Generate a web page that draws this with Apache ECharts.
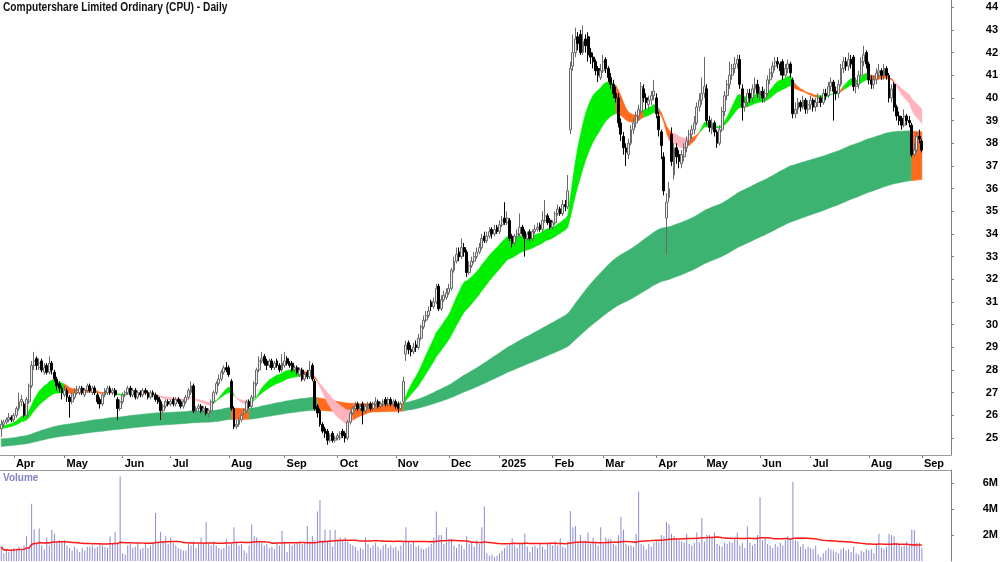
<!DOCTYPE html>
<html><head><meta charset="utf-8">
<script src="https://cdn.jsdelivr.net/npm/echarts@6/dist/echarts.min.js"></script>
<style>html,body{margin:0;padding:0;background:#fff;}#chart{width:1000px;height:562px;}</style>
</head><body><div id="chart"></div>
<script>
const chartTitle = 'Computershare Limited Ordinary (CPU) - Daily';
const volumeTitle = 'Volume';
const firstDate = [2024, 2, 22];
const holidays = ['2024-03-29','2024-04-01','2024-04-25','2024-06-10','2024-12-25','2024-12-26','2025-01-01','2025-01-27','2025-04-18','2025-04-21','2025-04-25','2025-06-09'];
const futureSlots = 11;
const monthTickLabels = ['Apr','May','Jun','Jul','Aug','Sep','Oct','Nov','Dec','2025','Feb','Mar','Apr','May','Jun','Jul','Aug','Sep'];

const opens = [
25.4,25.6,25.7,25.8,25.9,25.8,26.0,26.3,26.6,26.5,
26.0,26.6,27.3,28.2,28.5,28.1,28.4,27.9,28.2,27.9,
28.3,27.9,27.6,27.4,27.2,26.9,27.1,26.8,26.6,26.8,
27.0,27.0,27.2,26.9,27.1,27.3,27.0,27.2,26.9,26.7,
26.5,26.9,27.0,27.2,27.0,27.1,26.7,26.3,26.6,26.9,
27.0,27.2,26.9,27.1,26.8,27.0,26.9,27.1,27.0,26.8,
27.0,26.9,26.8,26.6,26.2,26.4,26.6,26.5,26.7,26.5,
26.7,26.6,26.4,26.6,26.8,27.0,27.3,26.2,26.3,26.4,
26.2,26.3,26.1,26.2,26.6,27.0,27.4,27.6,27.9,28.1,
28.1,27.5,26.3,25.5,25.6,25.8,26.1,26.2,26.6,26.4,
26.8,27.4,28.0,28.4,28.6,28.4,28.2,28.4,28.1,28.4,
28.2,28.0,28.2,28.5,28.3,28.3,28.0,28.1,27.8,28.0,
27.6,27.9,27.7,28.2,27.5,26.4,26.2,25.6,25.4,25.3,
24.9,25.2,24.9,25.0,25.0,25.3,25.2,25.0,25.7,26.1,
26.3,26.5,26.3,26.5,26.2,26.4,26.5,26.3,26.5,26.6,
26.4,26.5,26.7,26.5,26.7,26.5,26.6,26.5,26.3,26.6,
28.7,29.2,28.9,28.8,29.1,29.0,29.4,29.9,30.2,30.4,
31.0,30.8,31.0,31.7,30.7,31.1,31.2,31.4,31.6,32.4,
32.8,33.2,33.0,33.4,33.2,32.3,32.6,32.8,33.0,33.2,
33.4,33.9,33.7,33.9,34.2,34.0,34.3,34.1,34.4,34.7,
34.5,34.6,33.9,33.6,33.9,34.0,34.3,34.1,33.8,34.1,
33.8,34.1,34.2,34.4,34.2,34.6,34.8,34.6,34.3,34.5,
34.9,35.1,34.9,35.3,35.2,38.6,41.4,42.0,42.7,42.8,
42.0,42.6,42.7,42.0,41.8,41.6,41.3,40.9,41.2,41.7,
41.3,40.9,40.6,40.2,40.0,38.9,38.3,37.8,37.5,38.0,
38.6,38.9,39.2,39.4,40.4,40.0,39.7,39.9,40.1,40.0,
39.2,38.5,37.4,34.7,35.6,38.4,36.6,37.8,37.5,37.1,
37.4,37.8,38.1,38.4,38.6,38.9,39.6,39.9,40.2,40.4,
39.0,38.6,38.9,38.5,38.0,38.6,39.4,40.1,40.6,41.0,
41.3,41.5,41.7,40.4,39.6,39.8,40.2,40.0,40.4,40.6,
40.1,40.3,40.0,40.2,40.8,41.1,41.4,41.6,41.5,41.6,
41.0,41.3,41.5,40.8,39.3,39.5,39.8,39.6,39.9,39.5,
39.7,39.9,39.6,39.8,40.0,39.8,40.2,40.1,40.5,40.7,
40.3,40.2,40.6,41.3,41.6,41.4,41.7,41.8,40.5,40.6,
41.0,41.6,42.0,41.5,40.8,40.6,40.8,41.1,41.2,41.0,
41.3,41.0,40.0,40.6,39.6,39.2,39.1,38.8,39.2,39.0,
38.8,37.5,37.7,38.3,38.1];

const highs = [
25.8,25.8,25.9,26.1,26.0,26.1,26.4,27.0,26.9,26.6,
26.8,27.4,28.4,28.8,28.6,28.5,28.5,28.3,28.3,28.6,
28.4,28.0,27.7,27.5,27.3,27.3,27.2,26.9,27.0,27.2,
27.3,27.3,27.3,27.2,27.4,27.4,27.3,27.3,27.0,26.8,
27.0,27.2,27.3,27.3,27.2,27.2,26.8,26.7,27.0,27.1,
27.3,27.3,27.2,27.2,27.1,27.1,27.2,27.2,27.1,27.1,
27.1,27.0,26.9,26.7,26.5,26.7,26.7,26.7,26.8,26.8,
26.8,26.7,26.7,26.9,27.2,27.5,27.4,26.4,26.5,26.5,
26.4,26.4,26.3,26.7,27.1,27.5,27.8,28.0,28.2,28.35,
28.2,27.6,26.4,25.8,25.9,26.1,26.3,26.7,26.7,26.9,
27.5,28.1,28.6,28.8,28.7,28.5,28.5,28.5,28.4,28.5,
28.3,28.7,28.8,28.6,28.4,28.4,28.2,28.2,28.1,28.1,
27.9,28.0,28.4,28.3,27.6,26.5,26.3,25.7,25.5,25.4,
25.2,25.3,25.1,25.2,25.3,25.4,25.3,25.8,26.2,26.4,
26.6,26.6,26.5,26.6,26.5,26.6,26.6,26.6,26.8,26.7,
26.6,26.7,26.8,26.8,26.8,26.7,26.7,26.6,26.6,27.7,
29.3,29.3,29.1,29.2,29.3,29.6,30.0,30.4,30.6,30.8,
31.1,31.2,31.8,31.8,31.3,31.5,31.6,31.8,32.5,33.0,
33.4,33.4,33.8,33.6,33.3,32.8,33.0,33.2,33.4,33.6,
34.0,34.1,34.1,34.3,34.3,34.4,34.4,34.6,34.8,35.4,
35.0,34.7,34.0,34.0,34.2,34.9,34.4,34.2,34.1,34.2,
34.2,34.4,34.5,34.5,35.0,35.5,34.9,34.7,34.6,35.0,
35.3,35.2,35.5,35.5,36.6,41.6,42.8,43.1,42.9,43.0,
43.2,42.8,42.9,42.2,42.0,41.7,41.4,41.5,41.9,41.8,
41.4,41.1,40.8,40.5,40.2,39.1,38.5,38.0,38.2,38.8,
39.1,39.4,39.7,40.7,40.6,40.2,40.1,40.3,40.8,40.2,
39.4,38.6,37.6,35.8,36.3,38.7,38.0,38.0,37.7,37.7,
38.0,38.3,38.6,38.8,39.2,39.8,40.2,40.9,41.8,40.6,
39.2,39.1,39.0,38.6,38.8,39.6,40.3,40.8,41.6,41.5,
41.8,41.9,41.9,40.6,40.0,40.4,40.4,40.6,40.9,40.8,
40.5,40.5,40.4,41.0,41.3,41.6,41.8,41.8,41.6,41.7,
41.5,41.7,41.6,40.9,39.8,40.0,39.9,40.1,40.0,39.9,
40.1,40.0,40.0,40.2,40.1,40.4,40.4,40.7,40.9,40.8,
40.5,40.8,41.5,41.8,41.8,42.0,41.9,41.9,40.9,41.2,
41.8,42.3,42.1,41.6,41.0,41.0,41.3,41.5,41.3,41.5,
41.4,41.1,40.6,40.7,39.7,39.4,39.2,39.5,39.3,39.2,
38.9,38.0,38.5,38.6,38.2];

const lows = [
25.05,25.5,25.6,25.7,25.7,25.7,25.9,26.2,26.4,25.9,
25.9,26.5,27.2,28.0,28.0,28.0,27.9,27.8,27.8,27.8,
27.8,27.5,27.1,27.0,26.7,26.8,26.6,25.9,26.5,26.7,
26.9,26.9,26.9,26.8,27.0,27.0,26.9,26.9,26.5,26.3,
26.4,26.8,26.9,26.9,26.9,26.8,25.8,26.2,26.5,26.8,
26.9,26.8,26.8,26.7,26.7,26.8,26.8,26.9,26.7,26.7,
26.8,26.6,26.5,25.8,26.1,26.3,26.4,26.4,26.4,26.4,
26.5,26.3,26.3,26.5,26.7,26.9,26.1,26.1,26.2,26.1,
26.1,26.0,25.9,26.1,26.5,26.9,27.3,27.5,27.8,27.9,
27.7,26.2,25.4,25.4,25.5,25.7,26.0,26.1,26.3,26.3,
26.7,27.3,27.9,28.3,28.2,28.0,28.1,28.0,28.0,28.1,
27.9,27.9,28.1,28.2,28.1,27.9,27.9,27.8,27.7,27.5,
27.5,27.6,27.6,27.5,26.2,25.9,25.5,25.2,25.0,24.7,
24.8,24.8,24.8,24.9,24.9,25.0,24.8,24.9,25.6,26.0,
26.2,26.2,26.2,25.6,26.1,26.3,26.2,26.2,26.4,26.3,
26.3,26.4,26.4,26.4,26.4,26.4,26.3,26.1,26.2,26.5,
28.4,28.7,28.6,28.7,28.8,28.9,29.3,29.8,30.1,30.3,
30.6,30.7,30.9,30.6,30.6,31.0,31.1,31.3,31.5,32.3,
32.7,32.8,32.9,33.0,32.1,32.2,32.5,32.7,32.9,33.1,
33.3,33.6,33.6,33.8,33.8,33.9,34.0,34.0,34.3,34.4,
34.4,33.7,33.4,33.5,33.8,33.9,33.9,33.0,33.7,33.7,
33.7,34.0,34.1,34.1,34.1,34.5,34.4,34.2,34.2,34.4,
34.8,34.8,34.8,35.0,35.1,38.4,41.2,41.8,42.1,41.9,
41.9,42.0,41.6,41.5,41.3,41.0,40.7,40.8,41.1,41.1,
40.7,40.4,40.0,39.8,38.7,38.1,37.5,37.0,37.3,37.9,
38.4,38.7,39.0,39.3,39.8,39.5,39.5,39.7,39.9,39.1,
38.3,37.3,35.7,33.1,35.4,37.0,36.4,37.1,36.9,36.9,
37.2,37.6,37.9,38.2,38.4,38.8,39.4,39.7,40.0,38.8,
38.5,38.4,38.3,37.8,37.9,38.5,39.2,39.9,40.4,40.8,
41.1,41.3,40.4,39.0,39.4,39.6,39.8,39.8,40.2,40.0,
39.9,39.8,39.8,40.1,40.6,40.9,41.2,41.3,41.0,40.8,
40.9,41.1,40.9,39.1,39.1,39.3,39.4,39.5,39.3,39.3,
39.5,39.4,39.4,39.6,39.6,39.7,39.9,40.0,40.3,39.0,
39.9,40.0,40.5,41.1,41.2,41.2,41.3,40.3,40.2,40.4,
40.9,41.4,41.3,40.6,40.4,40.4,40.6,40.9,40.8,40.8,
40.8,39.8,39.8,39.4,39.0,38.8,38.6,38.7,38.8,38.7,
37.4,37.4,37.6,38.0,37.6];

const closes = [
25.6,25.7,25.8,25.9,25.8,26.0,26.3,26.6,26.7,26.0,
26.7,27.3,28.2,28.4,28.2,28.3,28.0,28.1,27.9,28.3,
28.0,27.6,27.3,27.2,27.0,27.1,26.8,26.6,26.9,27.0,
27.1,27.2,27.0,27.1,27.3,27.1,27.2,27.0,26.6,26.5,
26.9,27.1,27.2,27.0,27.1,26.9,26.3,26.6,26.9,27.0,
27.2,26.9,27.1,26.8,27.0,26.9,27.1,27.0,26.8,27.0,
26.9,26.7,26.6,26.2,26.4,26.6,26.5,26.6,26.5,26.7,
26.6,26.4,26.6,26.8,27.1,27.3,26.2,26.3,26.4,26.2,
26.3,26.1,26.2,26.6,27.0,27.4,27.6,27.9,28.1,28.0,
27.8,26.3,25.5,25.6,25.8,26.0,26.2,26.6,26.4,26.8,
27.4,28.0,28.4,28.5,28.3,28.2,28.4,28.1,28.3,28.2,
28.0,28.3,28.4,28.3,28.2,28.0,28.1,27.9,28.0,27.6,
27.8,27.7,28.0,27.6,26.3,26.1,25.6,25.3,25.2,24.9,
25.1,24.9,25.0,25.1,25.2,25.1,25.0,25.7,26.1,26.3,
26.4,26.3,26.4,26.2,26.4,26.5,26.3,26.5,26.6,26.4,
26.5,26.6,26.5,26.7,26.5,26.6,26.4,26.3,26.5,27.5,
29.1,28.9,28.8,29.0,29.0,29.4,29.9,30.2,30.4,30.6,
30.8,31.0,31.6,30.7,31.1,31.3,31.4,31.6,32.4,32.8,
33.1,33.0,33.4,33.2,32.3,32.6,32.8,33.0,33.2,33.4,
33.8,33.7,33.9,34.1,34.0,34.2,34.1,34.4,34.6,34.5,
34.7,33.8,33.6,33.9,34.0,34.3,34.0,33.8,34.0,33.8,
34.1,34.2,34.3,34.2,34.6,34.8,34.5,34.3,34.5,34.9,
35.1,34.9,35.3,35.2,35.9,41.3,42.0,42.6,42.4,42.0,
42.5,42.3,41.9,41.8,41.6,41.2,41.0,41.2,41.6,41.3,
40.9,40.6,40.2,40.0,38.9,38.4,37.8,37.6,38.0,38.6,
38.9,39.2,39.5,40.5,40.0,39.8,39.9,40.1,40.3,39.3,
38.6,37.9,35.9,35.4,36.0,37.2,37.8,37.4,37.2,37.5,
37.8,38.1,38.4,38.6,38.9,39.6,39.9,40.2,40.5,39.0,
38.7,38.8,38.5,38.0,38.6,39.4,40.1,40.6,41.0,41.3,
41.5,41.7,40.6,39.6,39.8,40.2,40.0,40.4,40.6,40.2,
40.3,40.0,40.2,40.8,41.1,41.4,41.6,41.5,41.2,41.0,
41.3,41.5,41.1,39.3,39.5,39.8,39.6,39.9,39.5,39.7,
39.9,39.6,39.8,40.0,39.8,40.2,40.1,40.5,40.7,40.3,
40.2,40.6,41.3,41.6,41.4,41.7,41.5,40.5,40.6,41.0,
41.6,41.9,41.5,40.8,40.6,40.8,41.1,41.2,41.0,41.3,
41.0,40.0,40.4,39.6,39.2,39.0,38.8,39.2,39.0,38.9,
37.5,37.7,38.3,38.2,37.7];

// volume in millions
const volumes = [
1.1,0.6,0.9,0.7,0.8,1.0,0.9,1.1,0.8,1.2,
1.9,1.1,4.4,2.4,1.3,2.5,1.2,0.9,1.8,1.2,
2.4,2.1,1.5,1.6,1.5,1.6,1.2,1.0,0.8,1.1,
0.9,0.7,1.0,0.8,1.1,1.1,1.2,1.0,1.1,1.3,
1.2,1.1,1.0,1.9,1.3,2.25,1.4,6.5,0.6,0.5,
1.2,1.3,1.0,1.1,1.3,0.9,1.0,1.3,1.0,1.2,
1.3,3.7,1.4,2.25,1.5,1.9,1.3,1.8,1.4,1.2,
1.0,0.9,0.8,0.8,1.3,1.2,1.5,1.0,1.3,1.8,
1.3,3.0,1.3,1.2,1.5,1.2,1.0,0.9,1.0,1.7,
1.2,1.3,2.6,1.5,1.2,1.3,0.8,0.6,1.2,2.8,
1.9,1.8,1.5,1.4,1.2,1.3,1.0,1.1,0.9,1.3,
1.2,2.3,1.5,0.7,1.3,1.2,1.3,1.4,1.5,1.3,
1.4,2.7,1.5,1.9,1.6,3.8,4.7,1.6,2.4,1.5,
2.4,1.1,2.4,1.6,1.8,1.6,1.8,1.5,1.3,1.2,
1.1,0.8,1.0,0.9,1.8,1.3,1.0,1.2,1.4,1.1,
0.9,1.2,1.3,1.0,1.2,1.0,1.1,0.8,1.2,1.4,
2.6,1.5,1.3,1.5,1.1,1.2,1.0,0.9,1.0,1.1,
1.3,1.8,3.8,2.0,2.0,1.3,2.6,1.7,1.7,1.2,
1.0,1.3,1.2,0.9,1.9,1.3,1.4,1.1,1.6,1.3,
2.6,4.2,0.6,0.4,0.5,0.3,0.4,0.6,0.8,1.0,
1.2,1.3,1.74,1.2,1.0,1.3,1.3,2.1,1.1,0.7,
1.1,1.2,1.0,1.3,1.1,0.9,1.3,1.4,1.2,1.5,
1.2,1.74,1.1,1.0,1.5,3.85,2.6,2.7,1.4,2.0,
1.4,1.5,2.2,1.3,1.8,1.4,1.2,2.6,1.3,1.8,
1.7,1.7,1.3,1.2,2.0,3.4,2.4,1.3,1.2,1.2,
1.1,2.1,5.35,1.3,1.2,0.9,1.3,1.1,1.4,1.6,
1.5,2.0,1.9,3.0,2.8,2.1,1.9,1.7,1.6,1.5,
1.4,2.1,1.3,1.2,1.4,2.2,1.4,3.3,1.5,2.0,
2.0,1.8,2.2,1.3,1.2,1.1,1.4,1.3,1.5,1.4,
1.7,2.2,1.2,1.4,1.0,2.65,1.4,1.2,1.3,2.0,
4.9,1.6,1.8,1.3,1.2,1.0,1.3,1.1,1.4,1.2,
1.6,1.9,1.7,6.1,1.6,1.5,1.1,1.3,0.9,1.1,
1.0,0.9,1.2,0.5,0.3,0.6,0.8,1.0,0.9,0.8,
0.7,0.6,0.9,1.0,0.8,0.9,0.7,1.1,0.6,0.5,
0.8,0.7,0.9,0.8,0.9,0.6,1.3,2.1,1.0,0.9,
1.1,2.1,2.0,1.9,1.4,1.3,1.1,1.2,1.5,1.2,
2.4,2.4,1.4,1.4,1.0];

// Multiple moving average bands (EMA periods) and their starting levels
const shortPeriods = [15, 18, 21, 24, 27, 30];
const shortSeeds = [25.50, 25.48, 25.46, 25.44, 25.42, 25.40];
const longPeriods = [150, 170, 190, 210, 230, 250];
const longSeeds = [24.95, 24.88, 24.82, 24.75, 24.68, 24.62];
const volMaPeriod = 60;

// band colour states: [fromIndex, toIndex, state] 0=green 1=orange 2=pink
const shortBandStates = [[0,24,0],[25,43,1],[44,55,0],[56,59,1],[60,82,2],[83,91,0],[92,97,2],[98,117,0],[118,124,1],[125,138,2],[139,158,1],[159,242,0],[243,253,1],[254,259,0],[260,264,1],[265,271,2],[272,275,1],[276,312,0],[313,322,1],[323,330,0],[331,332,1],[333,342,0],[343,352,1],[353,364,2]];
const longBandStates = [[0,90,0],[91,97,1],[98,124,0],[125,158,1],[159,359,0],[360,364,1]];
const shortColors = ['#00ee00', '#ff6a1c', '#ffb3bd'];
const longColors = ['#3cb371', '#ff6a1c', '#ffb3bd'];

// ---- build library inputs ----
const n = closes.length;
const dates = [];
{
  const d = new Date(Date.UTC(firstDate[0], firstDate[1], firstDate[2]));
  while (dates.length < n + futureSlots) {
    const iso = d.toISOString().slice(0, 10);
    const wd = d.getUTCDay();
    if (wd !== 0 && wd !== 6 && holidays.indexOf(iso) < 0) dates.push(iso);
    d.setUTCDate(d.getUTCDate() + 1);
  }
}
const labelByDate = {};
const tickIdx = {};
{
  let k = 0;
  for (let i = 1; i < dates.length; i++) {
    if (dates[i].slice(0, 7) !== dates[i - 1].slice(0, 7) && k < monthTickLabels.length) {
      labelByDate[dates[i]] = monthTickLabels[k++];
      tickIdx[i] = true;
    }
  }
}
function ema(src, period, seed) {
  const a = 2 / (period + 1); let v = seed;
  return src.map(c => (v = v + a * (c - v)));
}
function band(periods, seeds) {
  const lines = periods.map((p, j) => ema(closes, p, seeds[j]));
  const lo = [], hi = [];
  for (let i = 0; i < n; i++) {
    const vals = lines.map(l => l[i]);
    lo.push(Math.min.apply(null, vals)); hi.push(Math.max.apply(null, vals));
  }
  return { lo, hi };
}
const shortBand = band(shortPeriods, shortSeeds);
const longBand = band(longPeriods, longSeeds);
const candleData = closes.map((c, i) => [opens[i], c, lows[i], highs[i]]);
const volMa = volumes.map((v, i) => {
  const s = Math.max(0, i - volMaPeriod + 1);
  let sum = 0; for (let j = s; j <= i; j++) sum += volumes[j];
  return +(sum / (i - s + 1)).toFixed(3);
});

// one polygon per colour segment of a band
function bandRenderer(b, colors) {
  return function (params, api) {
    const s = api.value(0), e = Math.min(api.value(1) + 1, n - 1);
    const col = colors[api.value(2)];
    const pts = [];
    for (let i = s; i <= e; i++) pts.push(api.coord([i, b.hi[i]]));
    for (let i = e; i >= s; i--) pts.push(api.coord([i, b.lo[i]]));
    return { type: 'polygon', shape: { points: pts }, style: { fill: col, stroke: col, lineWidth: 0.5 } };
  };
}

const FONT = "'Liberation Sans', Arial, Helvetica, sans-serif";
const chart = echarts.init(document.getElementById('chart'), null, { renderer: 'canvas' });
const isTick = (idx) => !!tickIdx[idx];
chart.setOption({
  animation: false,
  backgroundColor: '#ffffff',
  title: [
    { text: volumeTitle, left: 3, top: 473, padding: 0, textStyle: { fontSize: 10, fontWeight: 'bold', color: '#8080c4', fontFamily: FONT } }
  ],
  graphic: [
    { type: 'text', x: 3, y: 2, scaleX: 0.85, silent: true,
      style: { text: chartTitle, font: "bold 12px 'Liberation Sans', Arial, sans-serif", fill: '#111', align: 'left', verticalAlign: 'top' } }
  ],
  grid: [
    { left: 0, right: 49, top: 0, height: 455, outerBoundsMode: 'none' },
    { left: 0, right: 49, top: 470, height: 91, outerBoundsMode: 'none' }
  ],
  xAxis: [
    { type: 'category', gridIndex: 0, data: dates, boundaryGap: true,
      axisLine: { show: true, onZero: false, lineStyle: { color: '#9a9a9a', width: 1 } },
      axisTick: { show: true, alignWithLabel: true, interval: isTick, length: 3, lineStyle: { color: '#808080' } },
      axisLabel: { show: true, interval: isTick, formatter: (v) => labelByDate[v] || '', align: 'left', margin: 3, padding: [0, 0, 0, 2], color: '#000', fontWeight: 'bold', fontSize: 11, fontFamily: FONT },
      splitLine: { show: false } },
    { type: 'category', gridIndex: 1, data: dates, boundaryGap: true, position: 'top',
      axisLine: { show: true, onZero: false, lineStyle: { color: '#9a9a9a', width: 1 } },
      axisTick: { show: false }, axisLabel: { show: false }, splitLine: { show: false } }
  ],
  yAxis: [
    { type: 'value', gridIndex: 0, position: 'right', min: 24.25, max: 44.32, minInterval: 1, maxInterval: 1,
      axisLine: { show: true, lineStyle: { color: '#808080' } },
      axisTick: { show: true, length: 3, lineStyle: { color: '#808080' } },
      axisLabel: { showMinLabel: false, showMaxLabel: false, align: 'right', margin: 47, color: '#000', fontWeight: 'bold', fontSize: 11, fontFamily: FONT,
        formatter: (v) => (Math.abs(v - Math.round(v)) < 1e-6 ? String(Math.round(v)) : '') },
      splitLine: { show: false } },
    { type: 'value', gridIndex: 1, position: 'right', min: 0, max: 7, interval: 2,
      axisLine: { show: true, lineStyle: { color: '#808080' } },
      axisTick: { show: true, length: 3, lineStyle: { color: '#808080' } },
      axisLabel: { showMinLabel: false, showMaxLabel: false, align: 'right', margin: 47, color: '#000', fontWeight: 'bold', fontSize: 11, fontFamily: FONT,
        formatter: (v) => (v > 0 && v < 7 ? v + 'M' : '') },
      splitLine: { show: false } }
  ],
  series: [
    { type: 'custom', name: 'long', xAxisIndex: 0, yAxisIndex: 0, renderItem: bandRenderer(longBand, longColors), data: longBandStates, encode: { x: [0, 1] }, z: 1, silent: true, clip: true },
    { type: 'custom', name: 'short', xAxisIndex: 0, yAxisIndex: 0, renderItem: bandRenderer(shortBand, shortColors), data: shortBandStates, encode: { x: [0, 1] }, z: 2, silent: true, clip: true },
    { type: 'candlestick', name: 'CPU', xAxisIndex: 0, yAxisIndex: 0, data: candleData, barWidth: 2.4, z: 5,
      itemStyle: { color: '#eeeeee', color0: '#000000', borderColor: '#6a6a6a', borderColor0: '#000000', borderWidth: 1 } },
    { type: 'bar', name: 'Volume', xAxisIndex: 1, yAxisIndex: 1, data: volumes, barWidth: 1, itemStyle: { color: '#8a8ad4' }, z: 2 },
    { type: 'line', name: 'Volume MA', xAxisIndex: 1, yAxisIndex: 1, data: volMa, showSymbol: false, symbol: 'none', lineStyle: { color: '#ff1a1a', width: 1.5 }, z: 3 }
  ]
});
</script>
</body></html>
